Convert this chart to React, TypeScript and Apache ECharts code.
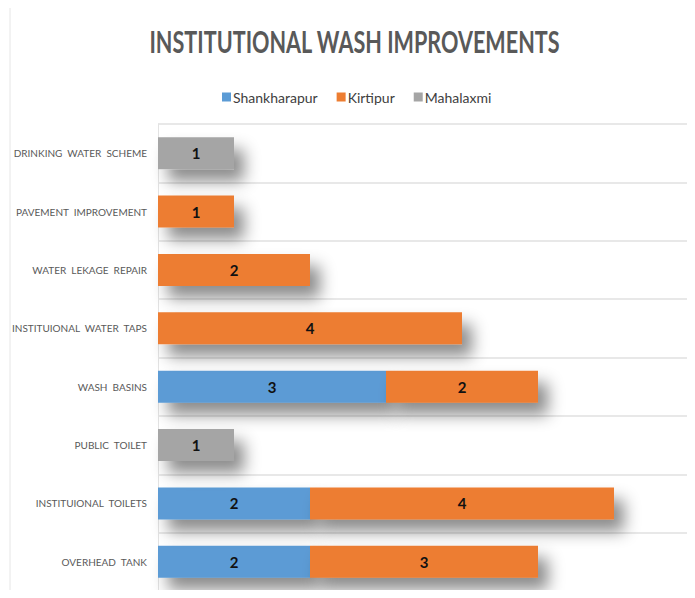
import React, { useEffect, useRef } from "react";
import * as echarts from "echarts";

const titleText = "INSTITUTIONAL WASH IMPROVEMENTS";
const seriesNames = ["Shankharapur", "Kirtipur", "Mahalaxmi"];
const categories = [
  "OVERHEAD TANK",
  "INSTITUIONAL TOILETS",
  "PUBLIC TOILET",
  "WASH BASINS",
  "INSTITUIONAL WATER TAPS",
  "WATER LEKAGE REPAIR",
  "PAVEMENT IMPROVEMENT",
  "DRINKING WATER SCHEME",
];
const shankharapur: (number | null)[] = [2, 2, null, 3, null, null, null, null];
const kirtipur: (number | null)[] = [3, 4, null, 2, 4, 2, 1, null];
const mahalaxmi: (number | null)[] = [null, null, 1, null, null, null, null, 1];

const FONT = "Lato, 'Noto Sans', sans-serif";

export default function App() {
  const ref = useRef<HTMLDivElement>(null);
  useEffect(() => {
    if (!ref.current) return;
    const chart = echarts.init(ref.current, undefined, { renderer: "svg" });
    const shadow = {
      shadowColor: "rgba(0,0,0,0.45)",
      shadowBlur: 16,
      shadowOffsetX: 10,
      shadowOffsetY: 12,
    };
    const label = {
      show: true,
      position: "inside" as const,
      color: "#111",
      fontWeight: "bold" as const,
      fontSize: 15,
      fontFamily: FONT,
    };
    const mk = (name: string, data: (number | null)[], color: string) => ({
      name,
      type: "bar" as const,
      stack: "total",
      data,
      barWidth: 32,
      itemStyle: { color, ...shadow },
      label,
    });
    chart.setOption({
      animation: false,
      backgroundColor: "#ffffff",
      color: ["#5B9BD5", "#ED7D31", "#A5A5A5"],
      legend: {
        top: 85,
        left: 217,
        itemWidth: 9,
        itemHeight: 9,
        itemGap: 19,
        icon: "rect",
        textStyle: { color: "#404040", fontSize: 14, fontFamily: FONT, padding: [0, 0, 0, -3] },
        data: seriesNames,
      },
      grid: { left: 158, right: 5, top: 124, bottom: 7, containLabel: false, outerBoundsMode: "none" },
      xAxis: {
        type: "value",
        min: 0,
        max: 7,
        axisLabel: { show: false },
        splitLine: { show: false },
        axisLine: { show: false },
        axisTick: { show: false },
      },
      yAxis: {
        type: "category",
        data: categories,
        axisLine: { show: true, lineStyle: { color: "#e3e3e3" } },
        axisTick: { show: false },
        splitLine: { show: true, lineStyle: { color: "#e0e0e0", width: 1.5 } },
        axisLabel: {
          color: "#595959",
          fontSize: 10,
          fontFamily: FONT,
          margin: 11,
          formatter: (v: string) => v.split(" ").join("  "),
        },
      },
      graphic: [
        {
          type: "line",
          shape: { x1: 10, y1: 0, x2: 10, y2: 598 },
          style: { stroke: "#e6e6e6", lineWidth: 1 },
        },
        {
          type: "text",
          x: 354.5,
          y: 42,
          scaleX: 0.72,
          style: {
            text: titleText,
            font: `bold 30px ${FONT}`,
            fill: "#595959",
            textAlign: "center",
            textVerticalAlign: "middle",
          },
        },
      ],
      series: [
        mk(seriesNames[0], shankharapur, "#5B9BD5"),
        mk(seriesNames[1], kirtipur, "#ED7D31"),
        mk(seriesNames[2], mahalaxmi, "#A5A5A5"),
      ],
    });
    return () => chart.dispose();
  }, []);
  return <div ref={ref} style={{ width: 695, height: 598, margin: -8 }} />;
}
